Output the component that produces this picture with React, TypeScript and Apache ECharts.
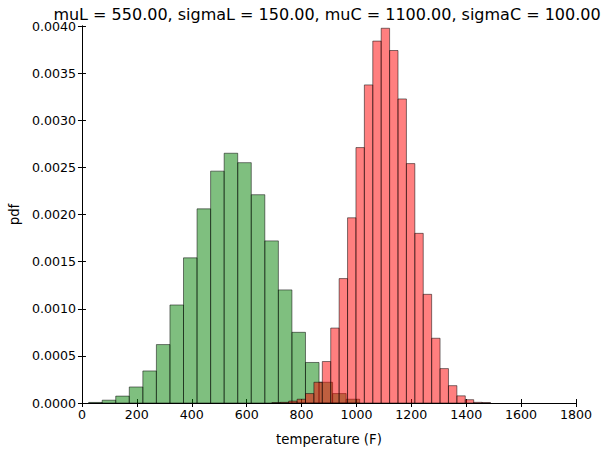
import React, { useEffect, useRef } from "react";
import * as echarts from "echarts";

const TITLE = "muL = 550.00, sigmaL = 150.00, muC = 1100.00, sigmaC = 100.00";
const X_LABEL = "temperature (F)";
const Y_LABEL = "pdf";

// Load (green) histogram: first bin edge, bin width, densities
const greenStart = 24.3;
const greenWidth = 49.38;
const greenDensity = [
  0.000006, 0.00003, 0.000073, 0.00017, 0.00034, 0.00062, 0.00104, 0.00154,
  0.00206, 0.00246, 0.00265, 0.00255, 0.00221, 0.00172, 0.0012, 0.00075,
  0.00043, 0.00022, 0.0001, 0.00004,
];

// Capacity (red) histogram
const redStart = 691.9;
const redWidth = 30.64;
const redDensity = [
  0.000003, 0.000007, 0.00002, 0.00004, 0.0001, 0.00022, 0.00044, 0.000795,
  0.00132, 0.001965, 0.00271, 0.003375, 0.00384, 0.003976, 0.00374, 0.003226,
  0.00254, 0.0018, 0.001153, 0.000687, 0.000365, 0.000184, 0.000076, 0.000035,
  0.000007, 0.000005,
];

const FONT = "DejaVu Sans";
const TICK_FS = 12.6;

function bins(start: number, width: number, dens: number[]) {
  return dens.map((d, i) => [start + i * width, start + (i + 1) * width, d]);
}

function makeRender(fill: string) {
  return (params: any, api: any) => {
    const x0 = api.value(0);
    const x1 = api.value(1);
    const h = api.value(2);
    const p0 = api.coord([x0, h]);
    const p1 = api.coord([x1, 0]);
    return {
      type: "rect",
      shape: { x: p0[0], y: p0[1], width: p1[0] - p0[0], height: p1[1] - p0[1] },
      style: { fill, stroke: "rgba(0,0,0,0.5)", lineWidth: 1 },
    };
  };
}

export default function App() {
  const ref = useRef<HTMLDivElement>(null);
  useEffect(() => {
    const chart = echarts.init(ref.current!, undefined, { renderer: "svg" });
    const axisCommon = {
      min: 0,
      axisLine: { show: true, lineStyle: { color: "#000", width: 1 } },
      axisTick: { show: true, inside: true, length: 4, lineStyle: { color: "#000" } },
      splitLine: { show: false },
    };
    chart.setOption({
      animation: false,
      title: {
        text: TITLE,
        left: 322,
        textAlign: "center",
        top: 1,
        textStyle: { fontFamily: FONT, fontSize: 16, fontWeight: "normal", color: "#000" },
      },
      grid: { left: 80, top: 26, width: 496, height: 384 },
      xAxis: [
        {
          ...axisCommon,
          type: "value",
          max: 1800,
          interval: 200,
          name: X_LABEL,
          nameLocation: "middle",
          nameGap: 30,
          nameTextStyle: { fontFamily: FONT, fontSize: 13.3, color: "#000" },
          axisLabel: {
            fontFamily: FONT,
            fontSize: TICK_FS,
            color: "#000",
            margin: 5,
            formatter: (v: number) => String(v),
          },
        },
        {
          ...axisCommon,
          type: "value",
          position: "top",
          max: 1800,
          interval: 200,
          axisLabel: { show: false },
        },
      ],
      yAxis: [
        {
          ...axisCommon,
          type: "value",
          max: 0.004,
          interval: 0.0005,
          name: Y_LABEL,
          nameLocation: "middle",
          nameGap: 60,
          nameTextStyle: { fontFamily: FONT, fontSize: 13.3, color: "#000" },
          axisLabel: {
            fontFamily: FONT,
            fontSize: TICK_FS,
            color: "#000",
            margin: 6,
            formatter: (v: number) => v.toFixed(4),
          },
        },
        {
          ...axisCommon,
          type: "value",
          position: "right",
          max: 0.004,
          interval: 0.0005,
          axisLabel: { show: false },
        },
      ],
      series: [
        {
          type: "custom",
          xAxisIndex: 0,
          yAxisIndex: 0,
          renderItem: makeRender("rgba(0,128,0,0.5)"),
          encode: { x: [0, 1], y: 2 },
          data: bins(greenStart, greenWidth, greenDensity),
        },
        {
          type: "custom",
          xAxisIndex: 0,
          yAxisIndex: 0,
          renderItem: makeRender("rgba(255,0,0,0.5)"),
          encode: { x: [0, 1], y: 2 },
          data: bins(redStart, redWidth, redDensity),
        },
      ],
    });
    return () => chart.dispose();
  }, []);
  return (
    <div
      ref={ref}
      style={{ position: "fixed", left: 0, top: 0, width: 602, height: 451, background: "#fff" }}
    />
  );
}
